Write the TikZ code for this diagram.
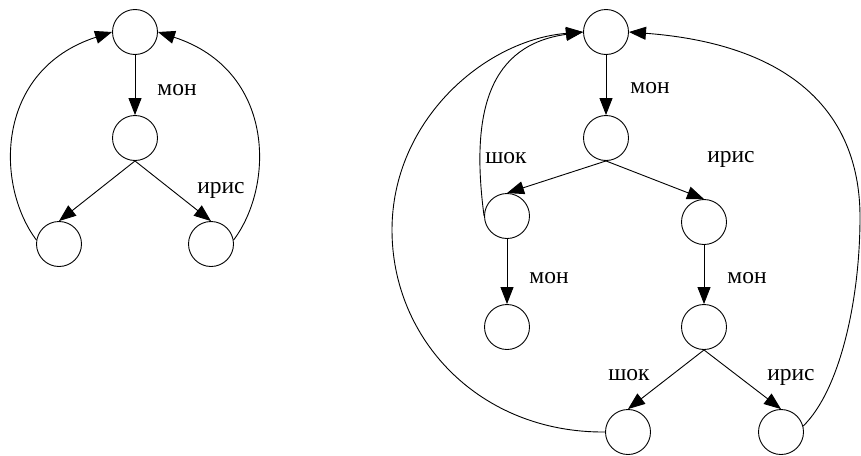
\documentclass[tikz,border=0pt]{standalone}
\usepackage{fontspec}
\setmainfont{Liberation Serif}
\newfontfamily\lblfont{Liberation Serif}
\usetikzlibrary{arrows.meta}
\begin{document}
\begin{tikzpicture}[x=1pt,y=-1pt,
  state/.style={circle,draw,line width=0.9pt,minimum size=45pt,inner sep=0pt},
  link/.style={line width=0.9pt,-{Triangle[length=17pt,width=13pt]}},
  lbl/.style={anchor=base,inner sep=0pt,font=\lblfont\fontsize{23.5pt}{26pt}\selectfont}]
\useasboundingbox (0,0) rectangle (861,455);

% left graph
\node[state] (t1) at (135,32) {};
\node[state] (m1) at (135,138) {};
\node[state] (a1) at (59,244) {};
\node[state] (b1) at (211,244) {};
\draw[link] (t1.south) -- (m1.north);
\draw[link] (m1.south) -- (a1.north);
\draw[link] (m1.south) -- (b1.north);
\draw[link] (a1.170) .. controls (-5,185) and (-5,70) .. (t1.180);
\draw[link] (b1.10) .. controls (275,185) and (275,70) .. (t1.0);
\node[lbl] (l1) at (177,95) {мон};
\node[lbl] (l2) at (221,193) {ирис};

% right graph
\node[state] (T) at (606,32) {};
\node[state] (M) at (606,138) {};
\node[state] (S) at (507,216) {};
\node[state] (I) at (704,222) {};
\node[state] (SM) at (507,327) {};
\node[state] (IM) at (704,327) {};
\node[state] (SS) at (628,432) {};
\node[state] (SI) at (781,432) {};
\draw[link] (T.south) -- (M.north);
\draw[link] (M.south) -- (S.north);
\draw[link] (M.south) -- (I.north);
\draw[link] (S.south) -- (SM.north);
\draw[link] (I.south) -- (IM.north);
\draw[link] (IM.south) -- (SS.north);
\draw[link] (IM.south) -- (SI.north);
\draw[link] (S.180) .. controls (470,110) and (490,45) .. (T.180);
\coordinate (lw) at (392,230);
\draw[link] (SS.180) .. controls (480,433) and (392,340) .. (lw)
  .. controls (392,120) and (485,40) .. (T.180);
\coordinate (re) at (860,217);
\draw[link] (SI.15) .. controls (840,390) and (860,300) .. (re)
  .. controls (860,120) and (800,45) .. (T.0);
\node[lbl] (r1) at (650,93) {мон};
\node[lbl] (r2) at (506,163) {шок};
\node[lbl] (r3) at (731,162) {ирис};
\node[lbl] (r4) at (549,283) {мон};
\node[lbl] (r5) at (747,283) {мон};
\node[lbl] (r6) at (629,380) {шок};
\node[lbl] (r7) at (791,380) {ирис};
\end{tikzpicture}
\end{document}
